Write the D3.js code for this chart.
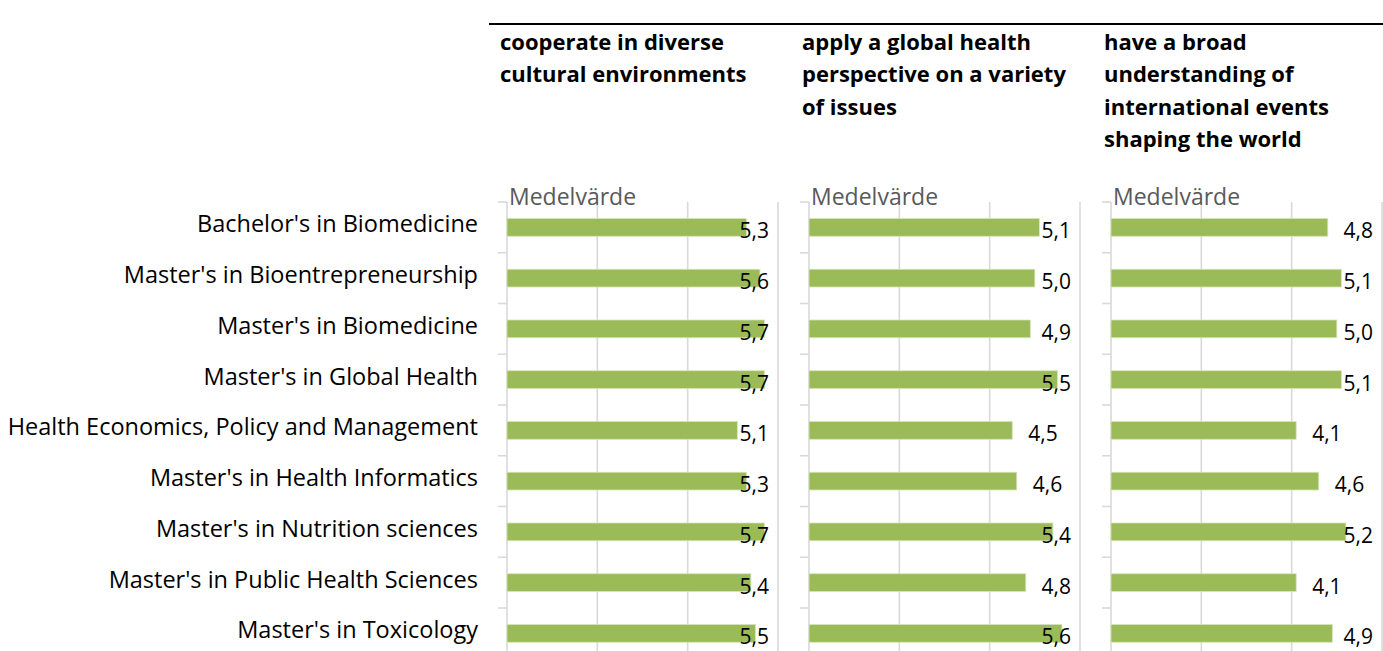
<!DOCTYPE html>
<html>
<head>
<meta charset="utf-8">
<script src="https://cdn.jsdelivr.net/npm/d3@7"></script>
<style>
  html, body { margin: 0; padding: 0; background: #fff; }
  svg { display: block; font-family: "Open Sans", "Noto Sans", sans-serif; }
</style>
</head>
<body>
<svg id="chart" width="1383" height="651"></svg>
<script>
// Programmes (rows, top to bottom)
const programmes = [
  "Bachelor's in Biomedicine",
  "Master's in Bioentrepreneurship",
  "Master's in Biomedicine",
  "Master's in Global Health",
  "Health Economics, Policy and Management",
  "Master's in Health Informatics",
  "Master's in Nutrition sciences",
  "Master's in Public Health Sciences",
  "Master's in Toxicology"
];

// Statement headers, one per panel, pre-broken into lines
const panelTitles = [
  ["cooperate in diverse", "cultural environments"],
  ["apply a global health", "perspective on a variety", "of issues"],
  ["have a broad", "understanding of", "international events", "shaping the world"]
];

// Mean scores per programme
const cooperateMeans     = [5.3, 5.6, 5.7, 5.7, 5.1, 5.3, 5.7, 5.4, 5.5];
const globalHealthMeans  = [5.1, 5.0, 4.9, 5.5, 4.5, 4.6, 5.4, 4.8, 5.6];
const internationalMeans = [4.8, 5.1, 5.0, 5.1, 4.1, 4.6, 5.2, 4.1, 4.9];

const seriesLabel = "Medelvärde";
const gridTicks = [0, 2, 4, 6];
const xDomain = [0, 6];

const panels = [cooperateMeans, globalHealthMeans, internationalMeans];

const svg = d3.select("#chart");
const fmt = v => d3.format(".1f")(v).replace(".", ",");

const plotTop = 202;
const rowStep = 50.75;
const y = d3.scaleBand()
  .domain(programmes)
  .range([plotTop, plotTop + rowStep * programmes.length])
  .paddingInner(0.65)
  .paddingOuter(0.325);

const panelLeft = [507, 809, 1111];
const panelWidth = 271;

// Rule under the (cropped) heading
svg.append("line")
  .attr("x1", 489).attr("x2", 1383)
  .attr("y1", 24).attr("y2", 24)
  .attr("stroke", "#000").attr("stroke-width", 2.2);

// Programme names on the left
svg.append("g")
  .selectAll("text")
  .data(programmes)
  .join("text")
  .attr("x", 478)
  .attr("y", d => y(d) + y.bandwidth() / 2 - 4)
  .attr("text-anchor", "end")
  .attr("dominant-baseline", "central")
  .attr("font-size", 23.5)
  .attr("fill", "#000")
  .text(d => d);

panels.forEach((values, i) => {
  const x0 = panelLeft[i];
  const x = d3.scaleLinear().domain(xDomain).range([x0, x0 + panelWidth]);
  const g = svg.append("g");
  const bottom = plotTop + rowStep * programmes.length;

  // Header lines
  g.append("text")
    .attr("font-weight", "bold")
    .attr("font-size", 22)
    .attr("fill", "#000")
    .selectAll("tspan")
    .data(panelTitles[i])
    .join("tspan")
    .attr("x", x0 - 7)
    .attr("y", (d, k) => 50 + k * 32.3)
    .text(d => d);

  // Vertical gridlines
  g.append("g")
    .selectAll("line")
    .data(gridTicks.filter(t => t > 0))
    .join("line")
    .attr("x1", d => x(d)).attr("x2", d => x(d))
    .attr("y1", plotTop).attr("y2", bottom)
    .attr("stroke", "#d9d9d9").attr("stroke-width", 1.6);

  // Category axis with tick marks between rows
  g.append("line")
    .attr("x1", x(0)).attr("x2", x(0))
    .attr("y1", plotTop).attr("y2", bottom)
    .attr("stroke", "#d9d9d9").attr("stroke-width", 1.6);
  const boundaries = d3.range(programmes.length + 1).map(k => plotTop + k * rowStep);
  g.append("g")
    .selectAll("line")
    .data(boundaries)
    .join("line")
    .attr("x1", x(0) - 9).attr("x2", x(0))
    .attr("y1", d => d).attr("y2", d => d)
    .attr("stroke", "#d9d9d9").attr("stroke-width", 1.6);

  // Bars
  g.append("g")
    .selectAll("rect")
    .data(values)
    .join("rect")
    .attr("x", x(0))
    .attr("y", (d, k) => y(programmes[k]))
    .attr("width", d => x(d) - x(0))
    .attr("height", y.bandwidth())
    .attr("fill", "#9bbb59")
    .attr("stroke", "#d7e4bd")
    .attr("stroke-width", 0.8);

  // Series name
  g.append("text")
    .attr("x", x0 + 2)
    .attr("y", 205)
    .attr("font-size", 23)
    .attr("fill", "#595959")
    .text(seriesLabel);

  // Value labels: outside end, kept inside the plot area
  const labelLimit = x0 + 262;
  g.append("g")
    .selectAll("text")
    .data(values)
    .join("text")
    .attr("y", (d, k) => y(programmes[k]) + y.bandwidth() / 2 + 3)
    .attr("dominant-baseline", "central")
    .attr("font-size", 21)
    .attr("fill", "#000")
    .text(d => fmt(d))
    .each(function (d) {
      const w = this.getComputedTextLength();
      const xs = Math.min(x(d) + 16, labelLimit - w);
      d3.select(this).attr("x", xs);
    });
});
</script>
</body>
</html>
